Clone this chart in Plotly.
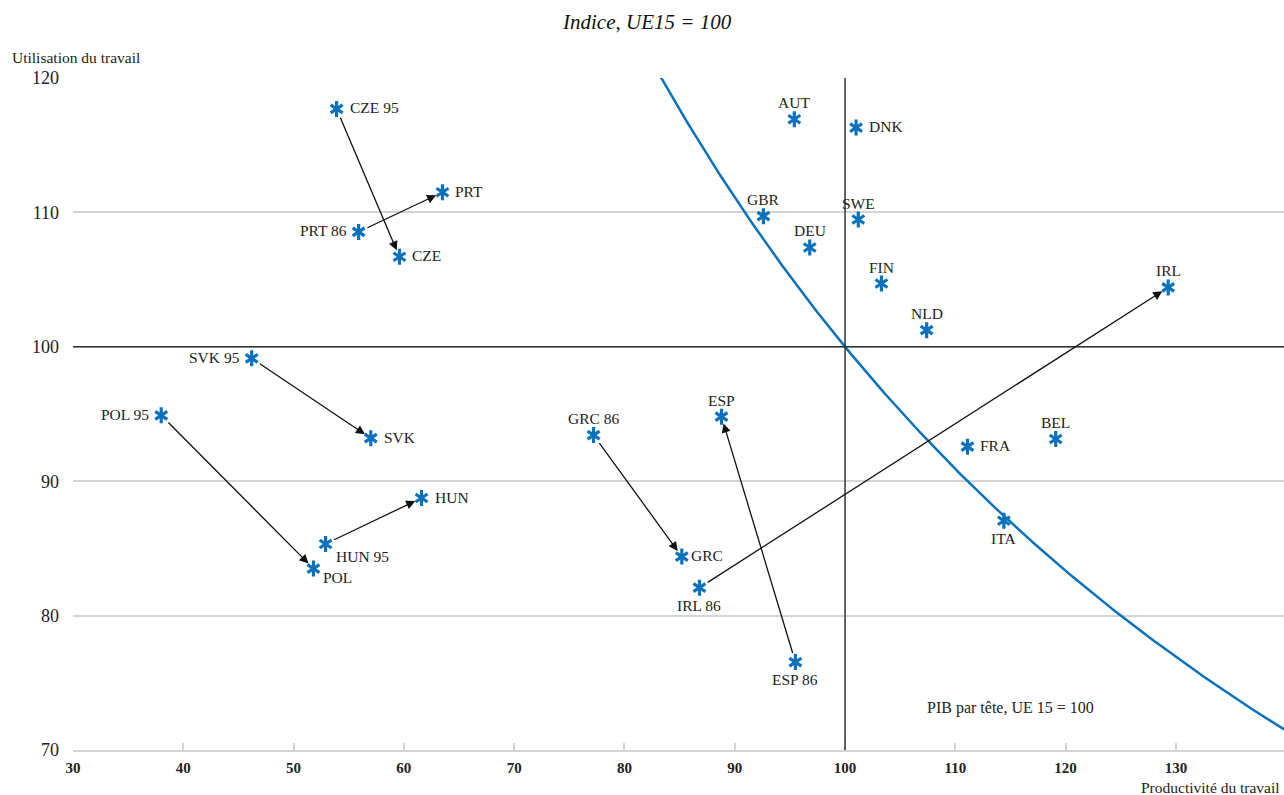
import plotly.graph_objects as go
import numpy as np

# ---- data ----
countries = ["CZE 95", "CZE", "PRT 86", "PRT", "SVK 95", "SVK", "POL 95", "POL",
             "HUN 95", "HUN", "GRC 86", "GRC", "IRL 86", "IRL", "ESP 86", "ESP",
             "AUT", "DNK", "GBR", "SWE", "DEU", "FIN", "NLD", "BEL", "FRA", "ITA"]
productivity = [53.9, 59.6, 55.9, 63.5, 46.2, 57.0, 38.0, 51.8,
                52.9, 61.6, 77.2, 85.2, 86.8, 129.3, 95.5, 88.8,
                95.4, 101.0, 92.6, 101.2, 96.8, 103.3, 107.4, 119.1, 111.1, 114.4]
utilisation = [117.7, 106.7, 108.55, 111.5, 99.14, 93.2, 94.9, 83.5,
               85.33, 88.75, 93.43, 84.39, 82.08, 104.42, 76.54, 94.8,
               116.93, 116.31, 109.72, 109.47, 107.39, 104.71, 101.24, 93.14, 92.57, 87.06]
label_pos = ["right", "right", "left", "right", "left", "right", "left", "right-low",
             "below-right", "right", "above", "right-near", "below", "above", "below", "above",
             "above", "right", "above", "above", "above", "above", "above", "above", "right", "below"]
arrows = [("CZE 95", "CZE"), ("PRT 86", "PRT"), ("SVK 95", "SVK"), ("POL 95", "POL"),
          ("HUN 95", "HUN"), ("GRC 86", "GRC"), ("IRL 86", "IRL"), ("ESP 86", "ESP")]
gdp_level = 100.0  # iso-GDP per capita curve (EU15 = 100)
x_ticks = [30, 40, 50, 60, 70, 80, 90, 100, 110, 120, 130]
y_ticks = [70, 80, 90, 100, 110, 120]

FONT = "'Liberation Serif', 'DejaVu Serif', 'Times New Roman', serif"
BLUE = "#0a72bd"
GRID = "#d4d4d4"
TXT = "#222"

fig = go.Figure()

# iso curve: productivity * utilisation / 100 = GDP per capita level
cx = np.linspace(80, 142, 300)
cy = gdp_level * 100.0 / cx
fig.add_trace(go.Scatter(x=cx, y=cy, mode="lines",
                         line=dict(color=BLUE, width=2.5), hoverinfo="skip", showlegend=False))

# six-armed asterisk markers (two overlaid Y symbols)
for sym in ["y-up-open", "y-down-open"]:
    fig.add_trace(go.Scatter(x=productivity, y=utilisation, mode="markers",
                             marker=dict(symbol=sym, size=10, color=BLUE,
                                         line=dict(color=BLUE, width=3.2)),
                             text=countries, showlegend=False))

annotations = []
offsets = {
    "right": dict(xanchor="left", yanchor="middle", xshift=11, yshift=1),
    "right-near": dict(xanchor="left", yanchor="middle", xshift=7, yshift=1),
    "right-low": dict(xanchor="left", yanchor="middle", xshift=8, yshift=-9),
    "left": dict(xanchor="right", yanchor="middle", xshift=-10, yshift=1),
    "above": dict(xanchor="center", yanchor="bottom", xshift=0, yshift=6),
    "below": dict(xanchor="center", yanchor="top", xshift=0, yshift=-7),
    "below-right": dict(xanchor="left", yanchor="top", xshift=8, yshift=-2),
}
for name, x, y, pos in zip(countries, productivity, utilisation, label_pos):
    o = offsets[pos]
    annotations.append(dict(x=x, y=y, xref="x", yref="y", text=name, showarrow=False,
                            font=dict(family=FONT, size=15.5, color=TXT), **o))

idx = {n: i for i, n in enumerate(countries)}
for a, b in arrows:
    i, j = idx[a], idx[b]
    annotations.append(dict(x=productivity[j], y=utilisation[j], ax=productivity[i], ay=utilisation[i],
                            xref="x", yref="y", axref="x", ayref="y", text="", showarrow=True,
                            arrowhead=2, arrowsize=1.4, arrowwidth=1.3, arrowcolor="#111",
                            standoff=7, startstandoff=8))

# titles
annotations.append(dict(x=0.474, y=1.0, xref="paper", yref="paper", yshift=56, text="<i>Indice, UE15 = 100</i>",
                        showarrow=False, font=dict(family=FONT, size=21, color="#111"),
                        xanchor="center", yanchor="middle"))
annotations.append(dict(x=0, y=1.0, xref="paper", yref="paper", xshift=-63, yshift=21,
                        text="Utilisation du travail", showarrow=False, xanchor="left", yanchor="middle",
                        font=dict(family=FONT, size=15.5, color=TXT)))
annotations.append(dict(x=1, y=0, xref="paper", yref="paper", yshift=-37, xshift=-2,
                        text="Productivité du travail", showarrow=False, xanchor="right", yanchor="middle",
                        font=dict(family=FONT, size=15.5, color=TXT)))
annotations.append(dict(x=115.0, y=73.14, xref="x", yref="y",
                        text="PIB par tête, UE 15 = 100", showarrow=False, xanchor="center", yanchor="middle",
                        font=dict(family=FONT, size=16, color=TXT)))

shapes = [
    dict(type="line", xref="x", yref="y", x0=100, x1=100, y0=70, y1=120, line=dict(color="#333", width=1.5)),
    dict(type="line", xref="paper", yref="y", x0=0, x1=1, y0=100, y1=100, line=dict(color="#333", width=1.5)),
]

fig.update_layout(
    width=1284, height=795,
    margin=dict(l=73, r=0, t=78, b=45),
    paper_bgcolor="white", plot_bgcolor="white",
    annotations=annotations, shapes=shapes,
    font=dict(family=FONT),
    xaxis=dict(range=[30, 139.8], tickvals=x_ticks, showgrid=False, zeroline=False,
               showline=True, linecolor=GRID, linewidth=2, ticks="inside", ticklen=7,
               tickcolor=GRID, tickwidth=2, ticklabelstandoff=3,
               tickfont=dict(family=FONT, size=15, color=TXT, weight="bold")),
    yaxis=dict(range=[70, 120], tickvals=y_ticks, showgrid=True, gridcolor=GRID, gridwidth=2,
               zeroline=False, showline=False, ticks="", ticklabelstandoff=13,
               tickfont=dict(family=FONT, size=18, color=TXT)),
)

fig.write_html("out.html", config={"displayModeBar": False},
               post_script="document.body.style.margin='0';document.body.style.overflow='hidden';")
